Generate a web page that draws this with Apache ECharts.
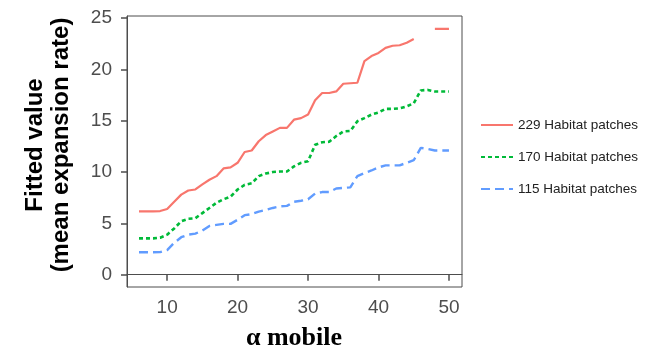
<!DOCTYPE html>
<html>
<head>
<meta charset="utf-8">
<script src="https://cdn.jsdelivr.net/npm/echarts@6/dist/echarts.min.js"></script>
<style>
  html, body { margin: 0; padding: 0; background: #fff; }
  #chart { width: 645px; height: 349px; }
</style>
</head>
<body>
<div id="chart"></div>
<script>
const alphaMobile = [6, 7, 8, 9, 10, 11, 12, 13, 14, 15, 16, 17, 18, 19, 20, 21, 22, 23, 24, 25, 26, 27, 28,
  29, 30, 31, 32, 33, 34, 35, 36, 37, 38, 39, 40, 41, 42, 43, 44, 45, 46, 47, 48, 49, 50];

const patches229 = [6.17, 6.17, 6.17, 6.2, 6.4, 7.1, 7.8, 8.2, 8.3, 8.8, 9.25, 9.6, 10.35, 10.45, 10.9, 11.95,
  12.1, 13.0, 13.6, 13.95, 14.3, 14.3, 15.1, 15.25, 15.6, 17.0, 17.7, 17.7, 17.85, 18.6, 18.65, 18.7, 20.8,
  21.3, 21.6, 22.1, 22.3, 22.35, 22.6, 22.95, null, null, 23.95, 23.95, 23.95];

const patches170 = [3.54, 3.54, 3.54, 3.6, 3.9, 4.5, 5.2, 5.45, 5.5, 6.0, 6.5, 7.0, 7.35, 7.6, 8.3, 8.75,
  8.9, 9.6, 9.85, 10.0, 10.05, 10.05, 10.55, 10.9, 11.05, 12.65, 12.9, 12.95, 13.5, 13.95, 14.0, 14.95, 15.25,
  15.6, 15.8, 16.15, 16.15, 16.2, 16.4, 16.7, 17.95, 18.0, 17.85, 17.85, 17.85];

const patches115 = [2.18, 2.18, 2.18, 2.2, 2.4, 3.1, 3.65, 3.9, 4.0, 4.3, 4.75, 4.85, 4.95, 4.95, 5.35, 5.8,
  5.9, 6.15, 6.3, 6.5, 6.65, 6.7, 7.1, 7.2, 7.35, 7.9, 8.05, 8.05, 8.4, 8.45, 8.5, 9.6, 9.9, 10.15, 10.45,
  10.65, 10.65, 10.65, 10.9, 11.15, 12.35, 12.25, 12.1, 12.1, 12.1];

const xTicks = [10, 20, 30, 40, 50];
const yTicks = [0, 5, 10, 15, 20, 25];

const pairs = (ys) => alphaMobile.map((x, i) => [x, ys[i]]);

const chart = echarts.init(document.getElementById("chart"));

const axisGray = "#4d4d4d";
const labelStyle = { fontFamily: "Liberation Sans, Arial", fontSize: 19, color: "#4d4d4d" };

chart.setOption({
  animation: false,
  grid: {
    left: 127, right: 183, top: 16, bottom: 62,
    show: true, borderColor: axisGray, borderWidth: 1,
  },
  legend: {
    orient: "vertical",
    left: 475,
    top: 113,
    itemWidth: 32,
    itemHeight: 12,
    itemGap: 18,
    itemStyle: { opacity: 0, borderWidth: 0 },
    textStyle: { fontFamily: "Liberation Sans, Arial", fontSize: 13.5, color: "#222" },
    data: ["229 Habitat patches", "170 Habitat patches", "115 Habitat patches"],
  },
  xAxis: {
    type: "value",
    min: 4.3,
    max: 51.85,
    splitLine: { show: false },
    axisLine: { lineStyle: { color: axisGray } },
    axisTick: { customValues: xTicks, length: 6, lineStyle: { color: axisGray, width: 1.5 } },
    axisLabel: { customValues: xTicks, margin: 11, ...labelStyle },
  },
  yAxis: {
    type: "value",
    min: -1.2,
    max: 25.2,
    splitLine: { show: false },
    axisLine: { show: true, lineStyle: { color: axisGray } },
    axisTick: { show: true, customValues: yTicks, length: 6, lineStyle: { color: axisGray, width: 1.5 } },
    axisLabel: { customValues: yTicks, margin: 15, ...labelStyle },
  },
  graphic: [
    {
      type: "text",
      x: 35, y: 145, rotation: Math.PI / 2,
      style: {
        text: "Fitted value",
        font: "bold 24px Liberation Sans, Arial",
        fill: "#000",
        textAlign: "center",
        textVerticalAlign: "middle",
      },
    },
    {
      type: "text",
      x: 61, y: 145, rotation: Math.PI / 2,
      style: {
        text: "(mean expansion rate)",
        font: "bold 24px Liberation Sans, Arial",
        fill: "#000",
        textAlign: "center",
        textVerticalAlign: "middle",
      },
    },
    {
      type: "text",
      x: 294, y: 338,
      style: {
        text: "α mobile",
        font: "bold 26px Liberation Serif, Times New Roman",
        fill: "#000",
        textAlign: "center",
        textVerticalAlign: "middle",
      },
    },
  ],
  series: [
    {
      name: "229 Habitat patches",
      type: "line",
      data: pairs(patches229),
      showSymbol: false,
      symbol: "none",
      connectNulls: false,
      lineStyle: { color: "#F8766D", width: 2.2, type: "solid" },
      itemStyle: { color: "#F8766D" },
    },
    {
      name: "170 Habitat patches",
      type: "line",
      data: pairs(patches170),
      showSymbol: false,
      symbol: "none",
      lineStyle: { color: "#00BA38", width: 2.6, type: [4, 3] },
      itemStyle: { color: "#00BA38" },
    },
    {
      name: "115 Habitat patches",
      type: "line",
      data: pairs(patches115),
      showSymbol: false,
      symbol: "none",
      lineStyle: { color: "#619CFF", width: 2.4, type: [9, 5] },
      itemStyle: { color: "#619CFF" },
    },
  ],
});
</script>
</body>
</html>
